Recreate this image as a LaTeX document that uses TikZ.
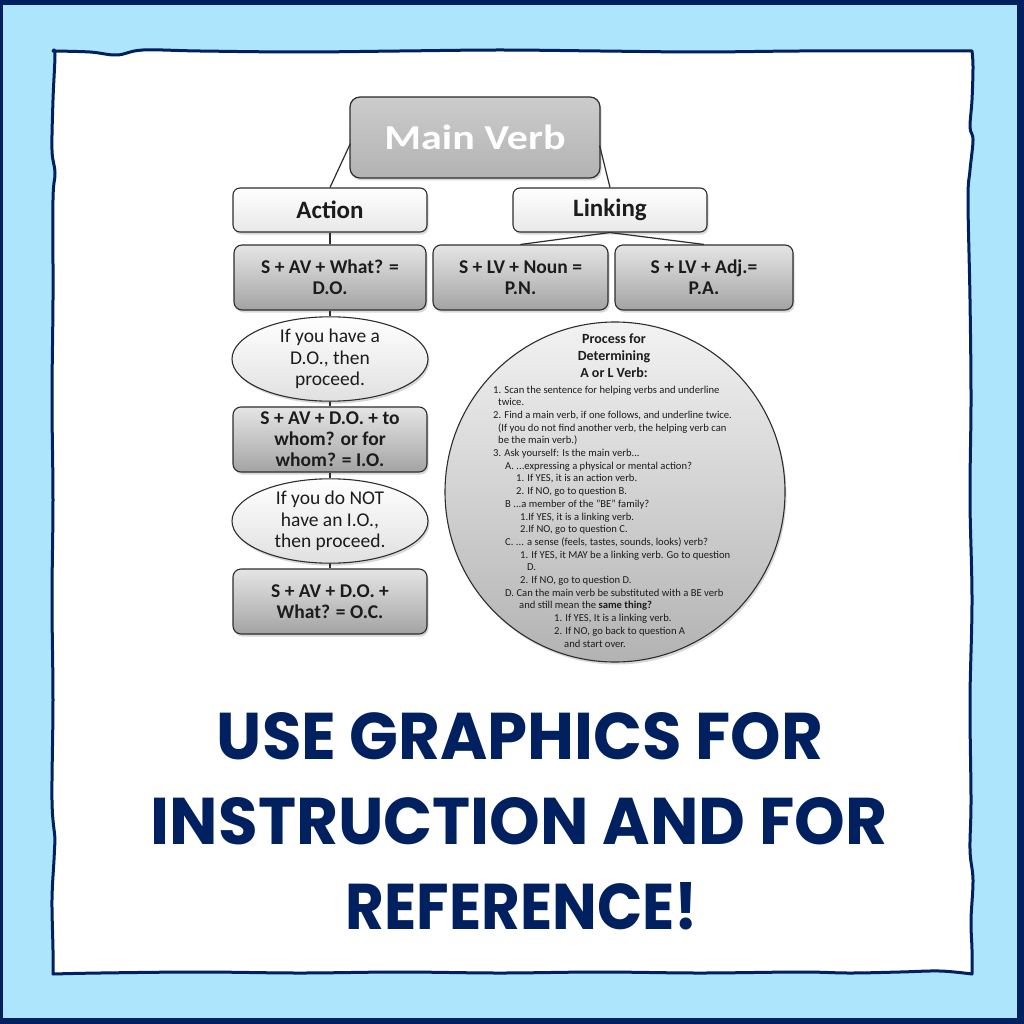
\documentclass[tikz,border=0pt]{standalone}
\usepackage{fontspec}
\usepackage{graphicx}
\setmainfont{Carlito}
\newfontfamily\titlefont{Poppins}
\usetikzlibrary{shapes.geometric,shadows,calc}
\definecolor{navy}{RGB}{0,32,96}
\definecolor{skyb}{RGB}{173,229,252}
\definecolor{txt}{RGB}{28,28,28}
\definecolor{edge}{RGB}{45,45,45}
\begin{document}
\begin{tikzpicture}[x=1pt,y=-1pt,
  shad/.style={drop shadow={opacity=0.3,shadow xshift=1.5pt,shadow yshift=-2.5pt}},
  mvbox/.style={rectangle,rounded corners=10pt,draw=edge,line width=1.2pt,top color=black!20,bottom color=black!30,
     minimum width=250pt,minimum height=81pt,inner sep=0pt,text=white,shad,
     font=\bfseries\fontsize{35}{35}\selectfont},
  headbox/.style={rectangle,rounded corners=7pt,draw=edge,line width=1.1pt,top color=white,bottom color=black!9,
     minimum width=194pt,minimum height=44pt,inner sep=0pt,text=txt,shad,
     font=\bfseries\fontsize{25}{25}\selectfont},
  graybox/.style={rectangle,rounded corners=8pt,draw=edge,line width=1.1pt,top color=black!10,bottom color=black!36,
     minimum height=65pt,inner sep=0pt,text=txt,align=center,shad,
     font=\bfseries\fontsize{19.5}{21}\selectfont},
  ovalbox/.style={ellipse,draw=edge,line width=1.1pt,top color=white,bottom color=black!12,
     minimum width=196pt,minimum height=77pt,inner sep=0pt,text=txt,align=center,shad,
     font=\fontsize{19.5}{21.5}\selectfont},
  bigcirc/.style={circle,draw=edge,line width=1.1pt,top color=black!5,bottom color=black!30,
     minimum size=340pt,inner sep=0pt,shad},
  conn/.style={draw=edge,line width=1.2pt},
  ctext/.style={anchor=base west,inner sep=0pt,text=txt,font=\fontsize{10.6}{12.7}\selectfont},
  ctitle/.style={align=center,inner sep=0pt,text=txt,font=\bfseries\fontsize{14}{17}\selectfont},
  bigtitle/.style={inner sep=0pt,text=navy,font=\titlefont\bfseries}
]
\useasboundingbox (0,0) rectangle (1024,1024);
% frame
\fill[navy] (0,0) rectangle (1024,1024);
\fill[skyb] (3,5) rectangle (1017,1018);
\filldraw[fill=white,draw=navy,line width=3pt,line join=round]
  plot[smooth,tension=0.6] coordinates {(53,51) (90,52) (117,55) (143,50) (200,51) (300,52) (400,51) (500,50) (600,51) (700,52) (800,51) (900,51) (972,51)}
  -- plot[smooth,tension=0.6] coordinates {(972,51) (973,67) (972,100) (970,127) (973,140) (970,170) (968,200) (970,300) (971,400) (970,500) (972,600) (970,700) (971,800) (970,850) (973,880) (971,920) (972,950) (972,974)}
  -- plot[smooth,tension=0.6] coordinates {(972,974) (940,971) (900,972) (850,973) (800,972) (700,973) (600,972) (500,973) (400,972) (300,973) (200,972) (100,973) (53,974)}
  -- plot[smooth,tension=0.6] coordinates {(53,974) (53,950) (52,900) (54,860) (55,840) (52,800) (53,700) (52,600) (53,500) (52,400) (53,300) (53,200) (55,173) (52,150) (53,100) (55,55) (53,51)}
  -- cycle;

% tree
\node[mvbox] (mv) at (475,137.5) {\scalebox{1.2}[1]{Main Verb}};
\node[headbox] (act) at (330,210) {Action};
\node[headbox] (lnk) at (610,210) {Linking};
\node[graybox,minimum width=192pt] (do) at (330,277.5) {S + AV + What? =\\D.O.};
\node[graybox,minimum width=175pt] (pn) at (520.5,277.5) {S + LV + Noun =\\P.N.};
\node[graybox,minimum width=178pt] (pa) at (704,277.5) {S + LV + Adj.=\\P.A.};
\node[ovalbox] (e1) at (330,359) {If you have a\\D.O., then\\proceed.};
\node[graybox,minimum width=194pt] (io) at (330,439.5) {S + AV + D.O. + to\\whom? or for\\whom? = I.O.};
\node[ovalbox] (e2) at (330,521) {If you do NOT\\have an I.O.,\\then proceed.};
\node[graybox,minimum width=194pt] (oc) at (330,601.5) {S + AV + D.O. +\\What? = O.C.};

\draw[conn] ($(mv.west)+(1,6)$) -- (act.north);
\draw[conn] ($(mv.east)+(-1,8)$) -- (lnk.north);
\draw[conn] (lnk.south) -- (pn.north);
\draw[conn] (lnk.south) -- (pa.north);
\draw[conn] (act.south) -- (do.north);
\draw[conn] (do.south) -- (e1.north);
\draw[conn] (e1.south) -- (io.north);
\draw[conn] (io.south) -- (e2.north);
\draw[conn] (e2.south) -- (oc.north);

% process circle
\node[bigcirc] (circ) at (615,492) {};
\node[ctitle] (ct) at (614,356) {Process for\\Determining\\A or L Verb:};
\node[ctext] (c1) at (493,393.0) {1. Scan the sentence for helping verbs and underline};
\node[ctext] (c2) at (498,405.7) {twice.};
\node[ctext] (c3) at (493,418.4) {2. Find a main verb, if one follows, and underline twice.};
\node[ctext] (c4) at (498,431.1) {(If you do not find another verb, the helping verb can};
\node[ctext] (c5) at (498,443.8) {be the main verb.)};
\node[ctext] (c6) at (493,456.5) {3. Ask yourself: Is the main verb...};
\node[ctext] (c7) at (505,469.2) {A. ...expressing a physical or mental action?};
\node[ctext] (c8) at (516,481.9) {1. If YES, it is an action verb.};
\node[ctext] (c9) at (516,494.6) {2. If NO, go to question B.};
\node[ctext] (c10) at (505,507.3) {B ...a member of the "BE" family?};
\node[ctext] (c11) at (520,520.0) {1.If YES, it is a linking verb.};
\node[ctext] (c12) at (520,532.7) {2.If NO, go to question C.};
\node[ctext] (c13) at (505,545.4) {C. ... a sense (feels, tastes, sounds, looks) verb?};
\node[ctext] (c14) at (520,558.1) {1. If YES, it MAY be a linking verb. Go to question};
\node[ctext] (c15) at (527,570.8) {D.};
\node[ctext] (c16) at (520,583.5) {2. If NO, go to question D.};
\node[ctext] (c17) at (505,596.2) {D. Can the main verb be substituted with a BE verb};
\node[ctext] (c18) at (519,608.9) {and still mean the \textbf{same thing?}};
\node[ctext] (c19) at (554,621.6) {1. If YES, It is a linking verb.};
\node[ctext] (c20) at (554,634.3) {2. If NO, go back to question A};
\node[ctext] (c21) at (564,647.0) {and start over.};

% bottom title
\node[bigtitle] (t1) at (520,736.5) {\resizebox{606pt}{47pt}{USE GRAPHICS FOR}};
\node[bigtitle] (t2) at (519,821) {\resizebox{736pt}{47pt}{INSTRUCTION AND FOR}};
\node[bigtitle] (t3) at (522,906.5) {\resizebox{352pt}{47pt}{REFERENCE!}};
\end{tikzpicture}
\end{document}
